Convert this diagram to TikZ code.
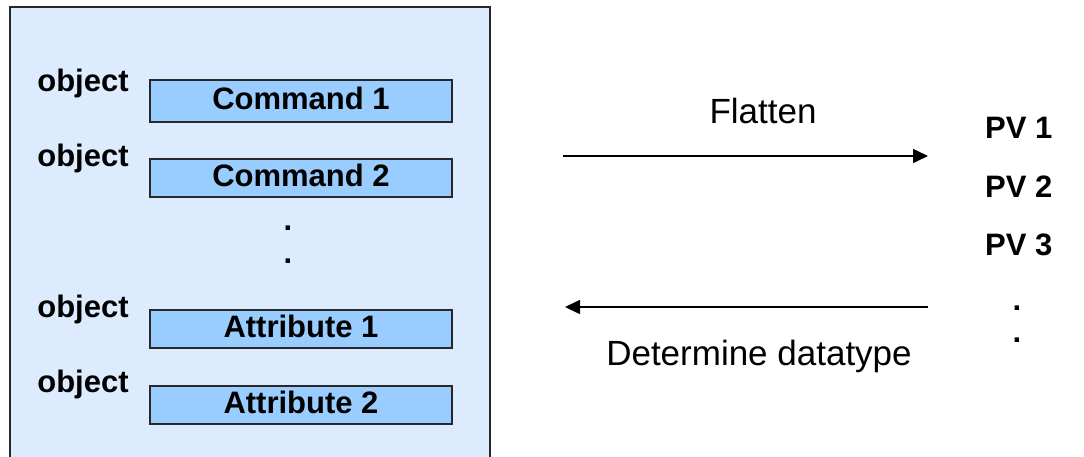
\documentclass[tikz,border=0pt]{standalone}
\usepackage{fontspec}
\setmainfont{Liberation Sans}
\usetikzlibrary{arrows.meta}

\definecolor{paleblue}{RGB}{220,235,253}
\definecolor{cellblue}{RGB}{153,204,255}
\definecolor{edgegray}{RGB}{40,40,40}

\begin{document}
\begin{tikzpicture}[x=1pt,y=-1pt,
  cell/.style={draw=edgegray, line width=1.4pt, fill=cellblue, minimum width=302pt,
    inner sep=0pt, text height=22pt, text depth=6pt, font=\fontsize{31}{36}\selectfont\bfseries},
  boldlabel/.style={anchor=base, inner sep=0pt, font=\fontsize{31}{36}\selectfont\bfseries},
  plainlabel/.style={anchor=base, inner sep=0pt, font=\fontsize{35}{40}\selectfont},
  flow/.style={line width=1.5pt, -{Triangle[length=15pt,width=14pt]}}]
\useasboundingbox (0,0) rectangle (1084,456);

% container
\draw[draw=edgegray, line width=1.3pt, fill=paleblue] (10,7) rectangle (490,475);

\node[cell, minimum height=42pt] (cmd1) at (301,101) {Command 1};
\node[cell, minimum height=38pt] (cmd2) at (301,178) {Command 2};
\node[cell, minimum height=38pt] (att1) at (301,329) {Attribute 1};
\node[cell, minimum height=38pt] (att2) at (301,405) {Attribute 2};

\node[boldlabel] (obj1) at (83,91) {object};
\node[boldlabel] (obj2) at (83,166) {object};
\node[boldlabel] (obj3) at (83,317) {object};
\node[boldlabel] (obj4) at (83,392) {object};

\node[boldlabel] (ldot1) at (288,230) {.};
\node[boldlabel] (ldot2) at (288,263) {.};

% right side
\node[boldlabel, anchor=base west] (pv1) at (985,138) {PV 1};
\node[boldlabel, anchor=base west] (pv2) at (985,197) {PV 2};
\node[boldlabel, anchor=base west] (pv3) at (985,255) {PV 3};
\node[boldlabel] (rdot1) at (1017,310) {.};
\node[boldlabel] (rdot2) at (1017,342) {.};

\node[plainlabel] (flat) at (763,123) {Flatten};
\node[plainlabel] (dtype) at (759,365) {Determine datatype};

\coordinate (fa) at (563,156);
\coordinate (fb) at (928,156);
\coordinate (da) at (928,307);
\coordinate (db) at (565,307);
\draw[flow] (fa) -- (fb);
\draw[flow] (da) -- (db);
\end{tikzpicture}
\end{document}
